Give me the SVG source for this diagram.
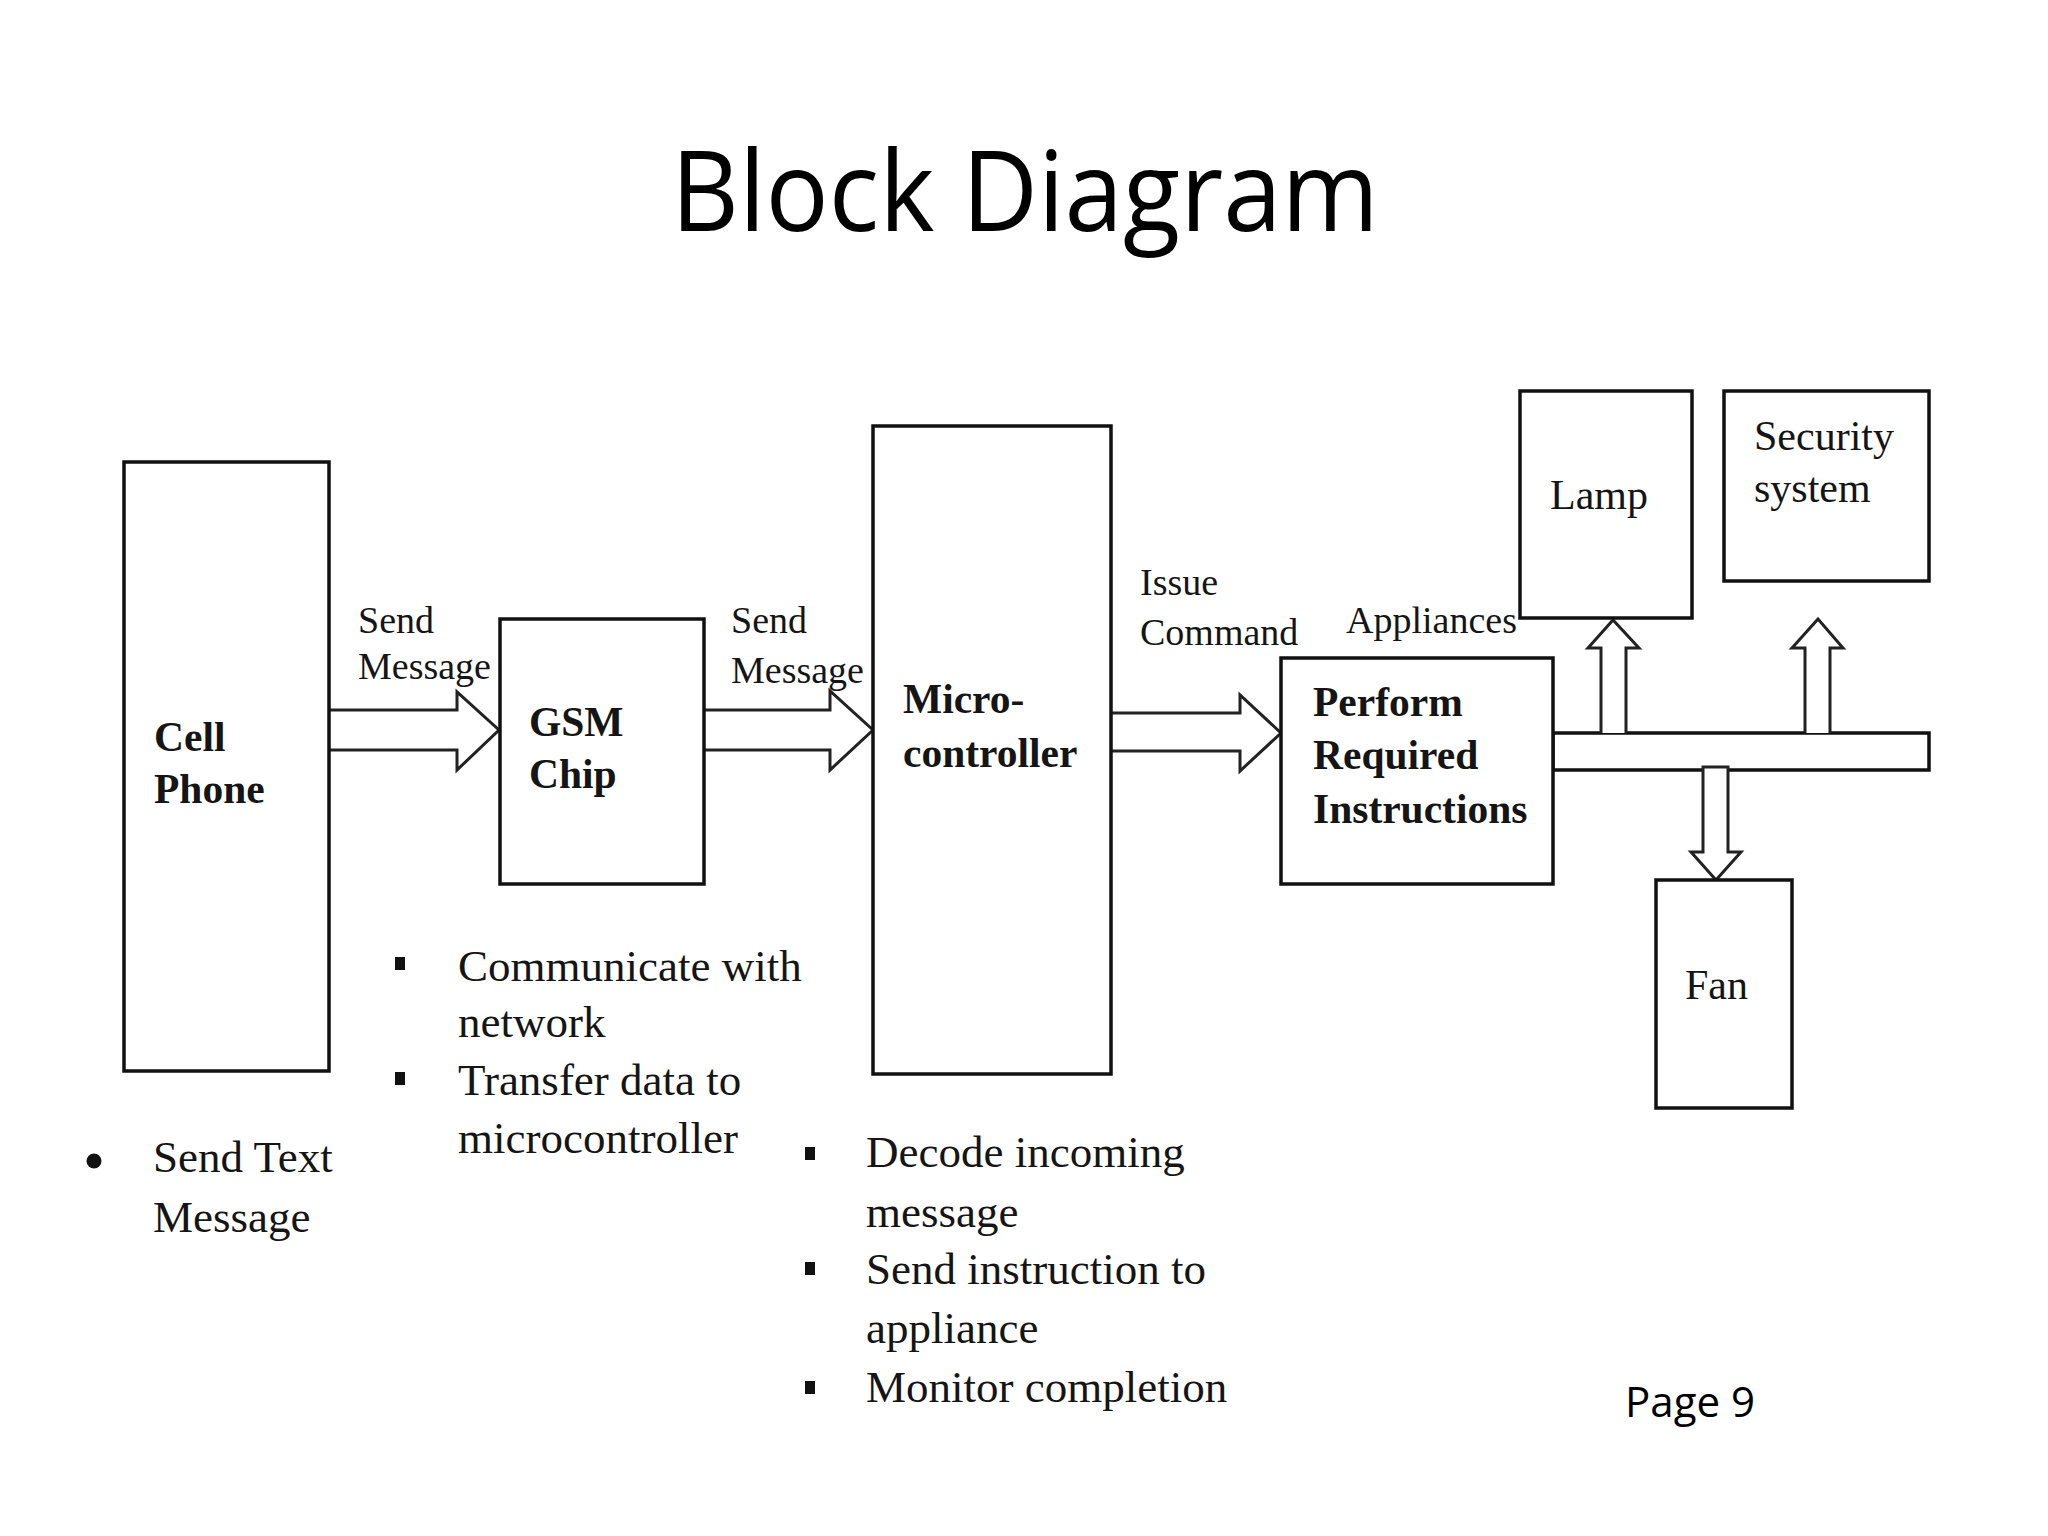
<svg xmlns="http://www.w3.org/2000/svg" width="2048" height="1536" viewBox="0 0 2048 1536">
<style>
.box{fill:#fff;stroke:#111;stroke-width:3.5}
.arr{fill:#fff;stroke:#222;stroke-width:3;stroke-linejoin:miter}
.t{font-family:"Liberation Serif","Times New Roman",serif;fill:#151515}
.b{font-weight:bold;font-size:41.5px}
.r{font-size:42px}
.lbl{font-size:38px}
.bul{font-size:45px}
.sans{font-family:"Open Sans","Noto Sans",sans-serif;fill:#000}
</style>
<rect width="2048" height="1536" fill="#fff"/>
<text class="sans" x="671" y="231" font-size="111" textLength="708" lengthAdjust="spacingAndGlyphs">Block Diagram</text>

<g id="connectors">
<polyline class="arr" points="330,710 457,710 457,692 499,730 457,770 457,750 330,750"/>
<polyline class="arr" points="704,710 830,710 830,691 873,730 830,770 830,750 704,750"/>
<polyline class="arr" points="1111,713 1240,713 1240,695 1281,733 1240,771 1240,751 1111,751"/>
<rect id="bus" class="box" x="1553" y="733" width="376" height="37"/>
<polyline class="arr" points="1601,733 1601,648 1588,648 1613,620 1639,648 1626,648 1626,733"/>
<polyline class="arr" points="1805,733 1805,648 1792,648 1818,619 1843,648 1830,648 1830,733"/>
<polygon class="arr" points="1703,767 1728,767 1728,852 1741,852 1716,880 1691,852 1703,852"/>
</g>

<g id="cell-phone">
<rect class="box" x="124" y="462" width="205" height="609"/>
<text class="t b" x="154" y="751">Cell</text>
<text class="t b" x="154" y="803">Phone</text>
</g>
<g id="gsm-chip">
<rect class="box" x="500" y="619" width="204" height="265"/>
<text class="t b" x="529" y="736">GSM</text>
<text class="t b" x="529" y="788">Chip</text>
</g>
<g id="microcontroller">
<rect class="box" x="873" y="426" width="238" height="648"/>
<text class="t b" x="903" y="713">Micro-</text>
<text class="t b" x="903" y="767">controller</text>
</g>
<g id="perform">
<rect class="box" x="1281" y="658" width="272" height="226"/>
<text class="t b" x="1313" y="716">Perform</text>
<text class="t b" x="1313" y="769">Required</text>
<text class="t b" x="1313" y="823">Instructions</text>
</g>
<g id="lamp">
<rect class="box" x="1520" y="391" width="172" height="227"/>
<text class="t r" x="1550" y="509">Lamp</text>
</g>
<g id="security">
<rect class="box" x="1724" y="391" width="205" height="190"/>
<text class="t r" x="1754" y="450">Security</text>
<text class="t r" x="1754" y="502">system</text>
</g>
<g id="fan">
<rect class="box" x="1656" y="880" width="136" height="228"/>
<text class="t r" x="1685" y="999">Fan</text>
</g>

<g id="labels">
<text class="t lbl" x="358" y="633">Send</text>
<text class="t lbl" x="358" y="679">Message</text>
<text class="t lbl" x="731" y="633">Send</text>
<text class="t lbl" x="731" y="683">Message</text>
<text class="t lbl" x="1140" y="595">Issue</text>
<text class="t lbl" x="1140" y="645">Command</text>
<text class="t lbl" x="1346" y="633">Appliances</text>
</g>

<g id="notes-cell">
<circle cx="94" cy="1161" r="7.5" fill="#111"/>
<text class="t bul" x="153" y="1172">Send Text</text>
<text class="t bul" x="153" y="1232">Message</text>
</g>
<g id="notes-gsm">
<rect x="395" y="957" width="10" height="13" fill="#111"/>
<rect x="395" y="1072" width="10" height="13" fill="#111"/>
<text class="t bul" x="458" y="981">Communicate with</text>
<text class="t bul" x="458" y="1037">network</text>
<text class="t bul" x="458" y="1095">Transfer data to</text>
<text class="t bul" x="458" y="1153">microcontroller</text>
</g>
<g id="notes-micro">
<rect x="805" y="1147" width="10" height="13" fill="#111"/>
<rect x="805" y="1262" width="10" height="13" fill="#111"/>
<rect x="805" y="1381" width="10" height="13" fill="#111"/>
<text class="t bul" x="866" y="1167">Decode incoming</text>
<text class="t bul" x="866" y="1227">message</text>
<text class="t bul" x="866" y="1284">Send instruction to</text>
<text class="t bul" x="866" y="1343">appliance</text>
<text class="t bul" x="866" y="1402">Monitor completion</text>
</g>

<text class="sans" x="1625" y="1417" font-size="42" textLength="130" lengthAdjust="spacingAndGlyphs">Page 9</text>
</svg>
